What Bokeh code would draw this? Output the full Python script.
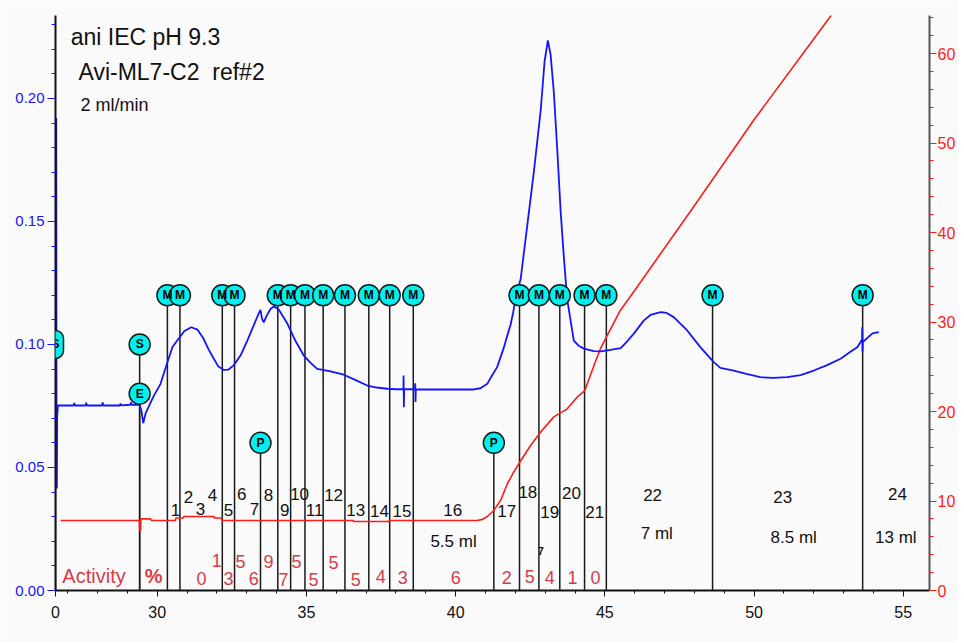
from bokeh.plotting import figure
from bokeh.models import (Range1d, LinearAxis, FixedTicker, PrintfTickFormatter,
                          Label, ColumnDataSource)
from bokeh.core.properties import value
from bokeh.embed import file_html
from bokeh.resources import INLINE

FONT = "Liberation Sans"

# ---------------- data ----------------
# UV absorbance trace (left axis, AU) vs time (min)
uv_time = [26.60, 26.615, 26.625, 26.635, 26.645, 26.67, 27.20, 27.22, 27.24, 27.60, 27.62, 27.64,
           28.15, 28.17, 28.19, 28.75, 28.77, 28.79, 29.10, 29.12, 29.14, 29.41, 29.47, 29.53,
           29.61, 29.78, 29.88, 30.11, 30.34, 30.51, 30.67, 30.91, 31.14, 31.35, 31.55, 31.72,
           31.89, 32.05, 32.22, 32.39, 32.56, 32.79, 33.02, 33.19, 33.40, 33.46, 33.51, 33.57,
           33.66, 33.80, 33.91, 34.07, 34.36, 34.63, 34.91, 35.14, 35.36, 35.81, 36.25, 36.65,
           37.04, 37.35, 37.71, 37.99, 38.25, 38.255, 38.265, 38.275, 38.64, 38.645, 38.655, 38.665,
           40.61, 40.83, 41.06, 41.20, 41.39, 41.62, 41.74, 41.84, 41.93, 42.01, 42.18, 42.40,
           42.62, 42.85, 42.98, 43.09, 43.18, 43.29, 43.41, 43.52, 43.63, 43.74, 43.79, 43.96,
           44.12, 44.30, 44.63, 44.86, 45.19, 45.53, 45.75, 45.97, 46.31, 46.53, 46.87, 47.07,
           47.31, 47.76, 48.20, 48.65, 48.87, 49.32, 49.74, 50.21, 50.65, 51.11, 51.56, 52.00,
           52.43, 52.90, 53.23, 53.46, 53.62, 53.625, 53.635, 53.645, 53.79, 53.97, 54.18]
uv_abs = [0.075, 0.192, 0.060, 0.0415, 0.070, 0.0752, 0.0752, 0.0762, 0.0752, 0.0752, 0.0763, 0.0752,
          0.0752, 0.0764, 0.0752, 0.0752, 0.0760, 0.0752, 0.0755, 0.0765, 0.0755, 0.0755, 0.073, 0.068,
          0.072, 0.0765, 0.079, 0.084, 0.0928, 0.099, 0.1016, 0.1055, 0.107, 0.106, 0.1024, 0.098,
          0.0943, 0.091, 0.0897, 0.0898, 0.0915, 0.0955, 0.1016, 0.1065, 0.1126, 0.1140, 0.1105, 0.109,
          0.1115, 0.1145, 0.1154, 0.1142, 0.1085, 0.1015, 0.0955, 0.0925, 0.0901, 0.0891, 0.0877, 0.0855,
          0.0833, 0.0825, 0.0820, 0.0818, 0.0818, 0.0874, 0.0745, 0.0818, 0.0818, 0.0842, 0.0766, 0.0818,
          0.0817, 0.0822, 0.084, 0.087, 0.0908, 0.0989, 0.104, 0.108, 0.1131, 0.119, 0.1267, 0.1484,
          0.170, 0.1951, 0.215, 0.2236, 0.218, 0.2026, 0.1782, 0.1538, 0.1349, 0.118, 0.1145, 0.1016,
          0.0995, 0.0983, 0.0973, 0.0972, 0.0978, 0.0985, 0.1013, 0.1044, 0.1098, 0.1120, 0.1131, 0.1128,
          0.1111, 0.1057, 0.0989, 0.0928, 0.0905, 0.0894, 0.0880, 0.0867, 0.0864, 0.0867, 0.0875, 0.0894,
          0.0915, 0.0942, 0.0970, 0.0989, 0.1020, 0.1070, 0.0970, 0.1010, 0.1026, 0.1045, 0.1050]

# Gradient trace (right axis) vs time (min)
grad_time = [26.76, 29.40, 29.41, 29.44, 29.45, 29.78, 29.80, 30.61, 30.62, 30.88, 30.89, 31.90,
             31.91, 32.16, 32.17, 33.46, 33.47, 33.52, 36.57, 36.58, 37.76, 37.77, 40.72, 40.90,
             41.06, 41.28, 41.51, 41.73, 41.94, 42.18, 42.51, 42.85, 43.29, 43.74, 44.07, 44.32,
             44.62, 44.85, 45.05, 45.50, 46.10, 48.00, 50.00, 52.57, 52.80]
grad_pct = [7.82, 7.82, 6.7, 6.7, 8.0, 8.0, 7.82, 7.82, 8.1, 8.1, 8.27, 8.27,
            8.1, 8.1, 7.82, 7.82, 7.74, 7.82, 7.82, 7.71, 7.71, 7.82, 7.82, 7.95,
            8.27, 8.94, 10.1, 11.9, 13.2, 14.5, 16.2, 17.7, 19.4, 20.3, 21.6, 22.3,
            25.0, 27.0, 28.3, 31.2, 34.0, 43.0, 52.6, 64.2, 65.3]

# Event marks (S = sample, E = end, M = mark, P = pause)
mark_time = [26.59, 29.41, 29.41, 30.34, 30.76, 32.18, 32.59, 33.46, 34.04, 34.47, 34.95, 35.56,
             36.29, 37.09, 37.79, 38.58, 41.28, 42.14, 42.79, 43.49, 44.32, 45.05, 48.61, 53.64]
mark_type = ["S", "S", "E", "M", "M", "M", "M", "P", "M", "M", "M", "M",
             "M", "M", "M", "M", "P", "M", "M", "M", "M", "M", "M", "M"]

# Fraction numbers
frac_label = [str(i) for i in range(1, 25)]
frac_time = [30.61, 31.05, 31.45, 31.85, 32.39, 32.83, 33.26, 33.73, 34.27, 34.77, 35.27, 35.91,
             36.65, 37.45, 38.20, 39.90, 41.71, 42.42, 43.15, 43.88, 44.66, 46.60, 50.96, 54.81]
frac_y = [0.0329, 0.0382, 0.0333, 0.0390, 0.0329, 0.0394, 0.0333, 0.0390, 0.0329, 0.0394, 0.0329, 0.0390,
          0.0329, 0.0325, 0.0325, 0.0329, 0.0325, 0.0402, 0.0321, 0.0398, 0.0321, 0.0390, 0.0378, 0.0394]

# Pooled volumes
vol_label = ["5.5 ml", "7 ml", "8.5 ml", "13 ml"]
vol_time = [39.93, 46.74, 51.33, 54.75]
vol_y = [0.0199, 0.0232, 0.0215, 0.0215]

# Activity (%) per fraction 3..21
act_label = ["0", "1", "3", "5", "6", "9", "7", "5", "5", "5", "5", "4", "3", "6", "2", "5", "4", "1", "0"]
act_time = [31.48, 31.99, 32.39, 32.79, 33.23, 33.73, 34.23, 34.67, 35.24, 35.91, 36.65, 37.49,
            38.23, 40.00, 41.71, 42.48, 43.15, 43.92, 44.69]
act_y = [0.0049, 0.0122, 0.0049, 0.0118, 0.0049, 0.0118, 0.0045, 0.0118, 0.0045, 0.0114, 0.0045, 0.0057,
         0.0053, 0.0053, 0.0053, 0.0057, 0.0053, 0.0053, 0.0053]

# Axes
x_start, x_end = 26.59, 55.88
uv_max = 0.2337
pct_max = 64.25
x_major = [26.59, 30, 35, 40, 45, 50, 55]
x_minor = list(range(27, 56))
uv_ticks = [0.0, 0.05, 0.10, 0.15, 0.20]
uv_minor = [round(0.01 * i, 2) for i in range(0, 24)]
pct_ticks = [0, 10, 20, 30, 40, 50, 60]
pct_minor = list(range(0, 65, 2))

# ---------------- styling ----------------
BLUE = "#1414ff"
RED = "#ff1a1a"
ACT_RED = "#d63c48"
CYAN = "#00f0f0"
BG = "#fafafa"
FW, FH = 874, 575
level = {"M": 0.12, "S": 0.10, "E": 0.08, "P": 0.06}

p = figure(frame_width=FW, frame_height=FH, output_backend="svg", toolbar_location=None,
           x_range=Range1d(x_start, x_end), y_range=Range1d(0, uv_max),
           min_border_left=55, min_border_right=29, min_border_top=15, min_border_bottom=52,
           background_fill_color=BG, border_fill_color=BG, outline_line_color=None)
p.grid.visible = False

# x axis
xa = p.xaxis[0]
xa.ticker = FixedTicker(ticks=x_major, minor_ticks=x_minor)
xa.formatter = PrintfTickFormatter(format="%d")
xa.major_label_overrides = {26.59: "0"}
xa.axis_line_color = "#111111"
xa.axis_line_width = 2
xa.major_tick_line_color = "#111111"
xa.minor_tick_line_color = "#111111"
xa.major_tick_out = 6
xa.major_tick_in = 0
xa.minor_tick_out = 3
xa.minor_tick_in = 0
xa.major_label_standoff = 9
xa.major_label_text_font = FONT
xa.major_label_text_font_size = "16px"
xa.major_label_text_color = "#111111"

# left axis
ya = p.yaxis[0]
ya.ticker = FixedTicker(ticks=uv_ticks, minor_ticks=uv_minor)
ya.formatter = PrintfTickFormatter(format="%.2f")
ya.axis_line_color = "#111111"
ya.axis_line_width = 2
ya.major_tick_line_color = BLUE
ya.minor_tick_line_color = BLUE
ya.major_tick_out = 8
ya.major_tick_in = 0
ya.minor_tick_out = 4
ya.minor_tick_in = 0
ya.major_label_standoff = 3
ya.major_label_text_font = FONT
ya.major_label_text_font_size = "15px"
ya.major_label_text_color = BLUE

# right axis
p.extra_y_ranges = {"pct": Range1d(0, pct_max)}
ra = LinearAxis(y_range_name="pct")
ra.ticker = FixedTicker(ticks=pct_ticks, minor_ticks=pct_minor)
ra.axis_line_color = "#555555"
ra.axis_line_width = 2
ra.major_tick_line_color = RED
ra.minor_tick_line_color = RED
ra.major_tick_out = 7
ra.major_tick_in = 0
ra.minor_tick_out = 4
ra.minor_tick_in = 0
ra.major_label_standoff = 1
ra.major_label_text_font = FONT
ra.major_label_text_font_size = "16px"
ra.major_label_text_color = RED
p.add_layout(ra, "right")

# fraction marker stems
stem_src = ColumnDataSource(dict(x=mark_time, y0=[0] * len(mark_time),
                                 y1=[level[t] for t in mark_type]))
p.segment(x0="x", y0="y0", x1="x", y1="y1", source=stem_src, line_color="#1a1a1a", line_width=1.5)

# traces
p.line(grad_time, grad_pct, y_range_name="pct", line_color=RED, line_width=1.6)
p.line(uv_time, uv_abs, line_color=BLUE, line_width=1.8)

# marker circles
mk_src = ColumnDataSource(dict(x=mark_time[1:], y=[level[t] for t in mark_type[1:]], t=mark_type[1:]))
p.scatter("x", "y", source=mk_src, size=21, fill_color=CYAN, line_color="#1a1a1a", line_width=1.5)
p.text("x", "y", text="t", source=mk_src, text_align="center", text_baseline="middle",
       text_font=value(FONT), text_font_style="bold", text_font_size="12px", text_color="black")
# the first mark sits on the left axis; a frame-relative label keeps it from being clipped
s_x = (mark_time[0] - x_start) / (x_end - x_start) * FW
s_y = level[mark_type[0]] / uv_max * FH
p.add_layout(Label(x=s_x, y=s_y, x_units="screen", y_units="screen", text=mark_type[0],
                   text_align="center", text_baseline="middle", text_font=FONT,
                   text_font_style="bold", text_font_size="12px", text_color="black",
                   background_fill_color=CYAN, border_line_color="#1a1a1a",
                   border_line_width=1.5, padding=(4, 7), border_radius=10))

# fraction numbers and volumes
fr_src = ColumnDataSource(dict(x=frac_time, y=frac_y, t=frac_label))
p.text("x", "y", text="t", source=fr_src, text_align="center", text_baseline="middle",
       text_font=value(FONT), text_font_size="17px", text_color="#111111")
vo_src = ColumnDataSource(dict(x=vol_time, y=vol_y, t=vol_label))
p.text("x", "y", text="t", source=vo_src, text_align="center", text_baseline="middle",
       text_font=value(FONT), text_font_size="17px", text_color="#111111")
p.text([42.85], [0.0159], text=["7"], text_align="center", text_baseline="middle",
       text_font=value(FONT), text_font_style="bold", text_font_size="11px", text_color="#111111")

# activity
ac_src = ColumnDataSource(dict(x=act_time, y=act_y, t=act_label))
p.text("x", "y", text="t", source=ac_src, text_align="center", text_baseline="middle",
       text_font=value(FONT), text_font_size="18px", text_color=ACT_RED)
p.add_layout(Label(x=26.82, y=0.0057, text="Activity", text_align="left", text_baseline="middle",
                   text_font=FONT, text_font_size="20px", text_color=ACT_RED))
p.add_layout(Label(x=29.88, y=0.0057, text="%", text_align="center", text_baseline="middle",
                   text_font=FONT, text_font_style="bold", text_font_size="20px", text_color=ACT_RED))

# run annotations
p.add_layout(Label(x=27.10, y=0.2248, text="ani IEC pH 9.3", text_align="left", text_baseline="middle",
                   text_font=FONT, text_font_size="23px", text_color="#111111"))
p.add_layout(Label(x=27.36, y=0.2106, text="Avi-ML7-C2\u00a0 ref#2", text_align="left",
                   text_baseline="middle", text_font=FONT, text_font_size="23px", text_color="#111111"))
p.add_layout(Label(x=27.43, y=0.1972, text="2 ml/min", text_align="left", text_baseline="middle",
                   text_font=FONT, text_font_size="18px", text_color="#111111"))

# x axis title (left-aligned under the axis)
p.add_layout(Label(x=28.16, y=-43, y_units="screen", text="Time [minutes]", text_align="left",
                   text_baseline="middle", text_font=FONT, text_font_size="15px", text_color="#111111"))

open("out.html", "w").write(file_html(p, INLINE))
